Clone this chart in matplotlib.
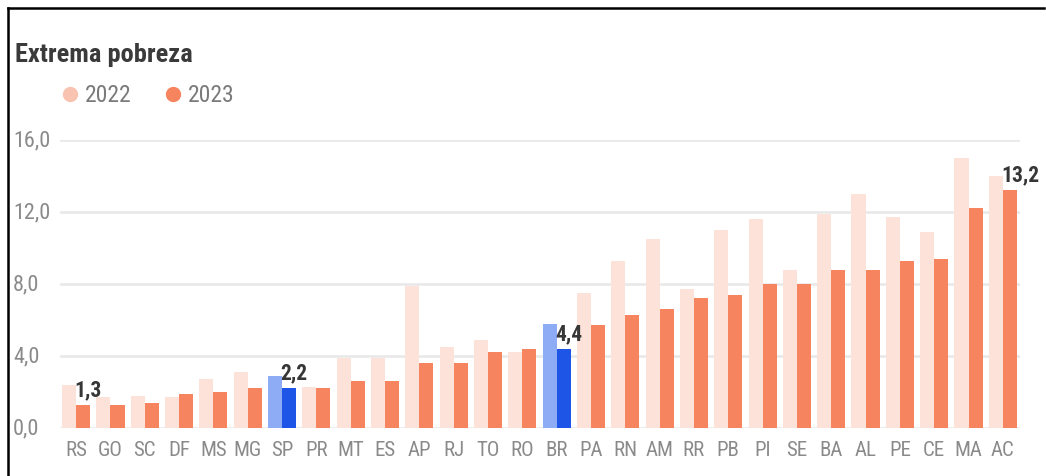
import matplotlib
matplotlib.use("Agg")
import matplotlib.pyplot as plt
from matplotlib import font_manager
from matplotlib.lines import Line2D
from matplotlib.transforms import blended_transform_factory
import numpy as np

# Extreme poverty rate by state (%), 2022 vs 2023
states = ["RS", "GO", "SC", "DF", "MS", "MG", "SP", "PR", "MT", "ES", "AP", "RJ", "TO", "RO",
          "BR", "PA", "RN", "AM", "RR", "PB", "PI", "SE", "BA", "AL", "PE", "CE", "MA", "AC"]
values_2022 = [2.4, 1.7, 1.8, 1.7, 2.7, 3.1, 2.9, 2.3, 3.9, 3.9, 7.9, 4.5, 4.9, 4.2,
               5.8, 7.5, 9.3, 10.5, 7.7, 11.0, 11.6, 8.8, 11.9, 13.0, 11.7, 10.9, 15.0, 14.0]
values_2023 = [1.3, 1.3, 1.4, 1.9, 2.0, 2.2, 2.2, 2.2, 2.6, 2.6, 3.6, 3.6, 4.2, 4.4,
               4.4, 5.7, 6.3, 6.6, 7.2, 7.4, 8.0, 8.0, 8.8, 8.8, 9.3, 9.4, 12.2, 13.2]
labelled = ["RS", "SP", "BR", "AC"]
highlight = ["SP", "BR"]
yticks = [0, 4, 8, 12, 16]

available = {f.name for f in font_manager.fontManager.ttflist}
narrow = next((f for f in ["Roboto Condensed", "Liberation Sans Narrow", "Open Sans Condensed",
                           "Roboto", "Open Sans"] if f in available), "DejaVu Sans")
plt.rcParams["font.family"] = [narrow, "DejaVu Sans"]

C22, C23 = "#fce2d8", "#f6845f"
B22, B23 = "#8eacf6", "#1f55e6"
GRID = "#e8e8e8"
TICK = "#8a8a8a"
DARK = "#363636"


def fmt(v):
    return f"{v:.1f}".replace(".", ",")


W, H = 1046, 477
fig = plt.figure(figsize=(W / 100, H / 100), dpi=100)
fig.patch.set_facecolor("white")

# plot area: 0 sits at y=429 px and 16 at y=141 px
ax = fig.add_axes([60 / W, (H - 429) / H, (1020 - 60) / W, (429 - 141) / H])
x = np.arange(len(states))
bw = 0.41
c22 = [B22 if s in highlight else C22 for s in states]
c23 = [B23 if s in highlight else C23 for s in states]
ax.bar(x - bw / 2, values_2022, width=bw, color=c22, zorder=2)
ax.bar(x + bw / 2, values_2023, width=bw, color=c23, zorder=2)

ax.set_xlim(-0.47, len(states) - 0.5)
ax.set_ylim(0, 16)
ax.set_yticks(yticks)
ax.set_yticklabels([])
ax.set_xticks(x)
ax.set_xticklabels(states)
ax.grid(axis="y", color=GRID, linewidth=1.8, zorder=0)
ax.set_axisbelow(True)
for sp in ax.spines.values():
    sp.set_visible(False)
ax.tick_params(axis="both", length=0, colors=TICK)
ax.tick_params(axis="x", pad=9, labelsize=15)
ax.set_facecolor("none")

# y tick labels, left aligned at the left margin
ytrans = blended_transform_factory(fig.transFigure, ax.transData)
for v in yticks:
    fig.text(13 / W, v, fmt(v), transform=ytrans, fontsize=16, color=TICK,
             ha="left", va="center")

for s in labelled:
    i = states.index(s)
    v = values_2023[i]
    ax.annotate(fmt(v), (i, v), xytext=(-1, 7), textcoords="offset points",
                ha="left", va="baseline", fontsize=15.5, fontweight="bold", color=DARK,
                annotation_clip=False)

fig.text(15 / W, 1 - 62 / H, "Extrema pobreza", fontsize=19, fontweight="bold",
         color="#3a3a3a", ha="left", va="baseline")

# legend
for cx, tx, col, lab in [(70, 85, "#f9c3b2", "2022"), (173, 188, C23, "2023")]:
    fig.add_artist(Line2D([cx / W], [1 - 95 / H], marker="o", markersize=10,
                          color=col, transform=fig.transFigure))
    fig.text(tx / W, 1 - 95 / H, lab, fontsize=17, color="#7a7a7a",
             ha="left", va="center")

# frame lines along the top and left edge
fig.add_artist(Line2D([8 / W, 1044 / W], [1 - 9 / H, 1 - 9 / H], color="black",
                      linewidth=1.8, transform=fig.transFigure))
fig.add_artist(Line2D([8 / W, 8 / W], [0, 1 - 9 / H], color="black",
                      linewidth=1.8, transform=fig.transFigure))

fig.savefig("out.png", dpi=100)
